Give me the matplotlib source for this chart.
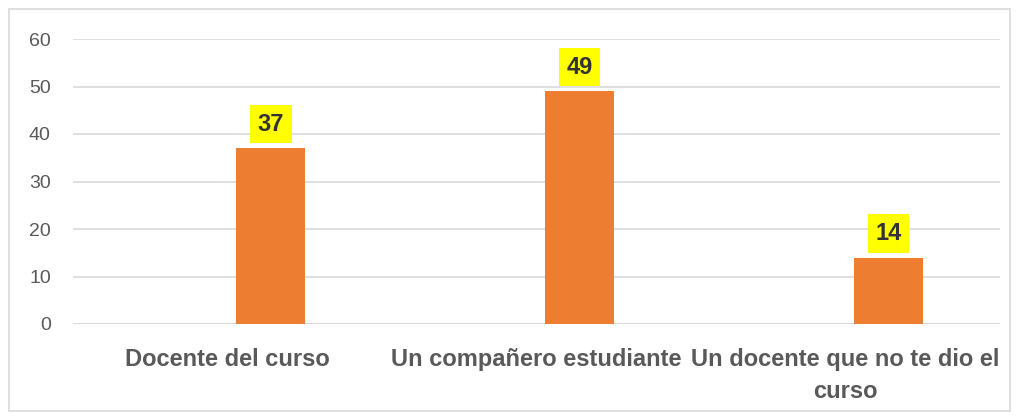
import matplotlib
matplotlib.use("Agg")
import matplotlib.pyplot as plt
from matplotlib.patches import Rectangle
from matplotlib import font_manager

categories = ["Docente del curso", "Un compañero estudiante", "Un docente que no te dio el\ncurso"]
values = [37, 49, 14]
yticks = [0, 10, 20, 30, 40, 50, 60]

names = {f.name for f in font_manager.fontManager.ttflist}
narrow = "Liberation Sans Narrow" if "Liberation Sans Narrow" in names else "Liberation Sans"

fig = plt.figure(figsize=(10.18, 4.2), dpi=100)
ax = fig.add_axes([73/1018, 96/420, 927/1018, 285/420])

x = list(range(len(categories)))
offset = 0.14
bw = 0.223
bars = ax.bar([i + offset for i in x], values, width=bw, color="#ED7D31", zorder=3)

ax.set_xlim(-0.5, len(categories) - 0.5)
ax.set_ylim(0, 60)
ax.set_yticks(yticks)
ax.yaxis.grid(True, color="#D9D9D9", linewidth=1.2, zorder=0)
for s in ax.spines.values():
    s.set_visible(False)
ax.axhline(0, color="#D9D9D9", linewidth=1.5, zorder=2)
ax.tick_params(axis="y", length=0, pad=16, labelsize=14, labelcolor="#595959")
ax.tick_params(axis="x", length=0, pad=17)
ax.set_xticks(x)
ax.set_xticklabels(categories, fontsize=17, fontweight="bold", color="#595959",
                   family=[narrow, "DejaVu Sans"], linespacing=1.5, va="top")
for lbl in ax.get_yticklabels():
    lbl.set_family(["Liberation Sans", "DejaVu Sans"])

for i, v in enumerate(values):
    ax.annotate(str(v), (i + offset, v), xytext=(0, 9), textcoords="offset points",
                ha="center", va="bottom", fontsize=17, fontweight="bold", color="#333333",
                family=[narrow, "DejaVu Sans"],
                bbox=dict(boxstyle="square,pad=0.32", fc="#FFFF00", ec="none"), zorder=5)

fig.patches.append(Rectangle((9/1018, 9/420), 1001/1018, 402/420, transform=fig.transFigure,
                             fill=False, ec="#D9D9D9", lw=1.2))

fig.savefig("out.png", dpi=100)
